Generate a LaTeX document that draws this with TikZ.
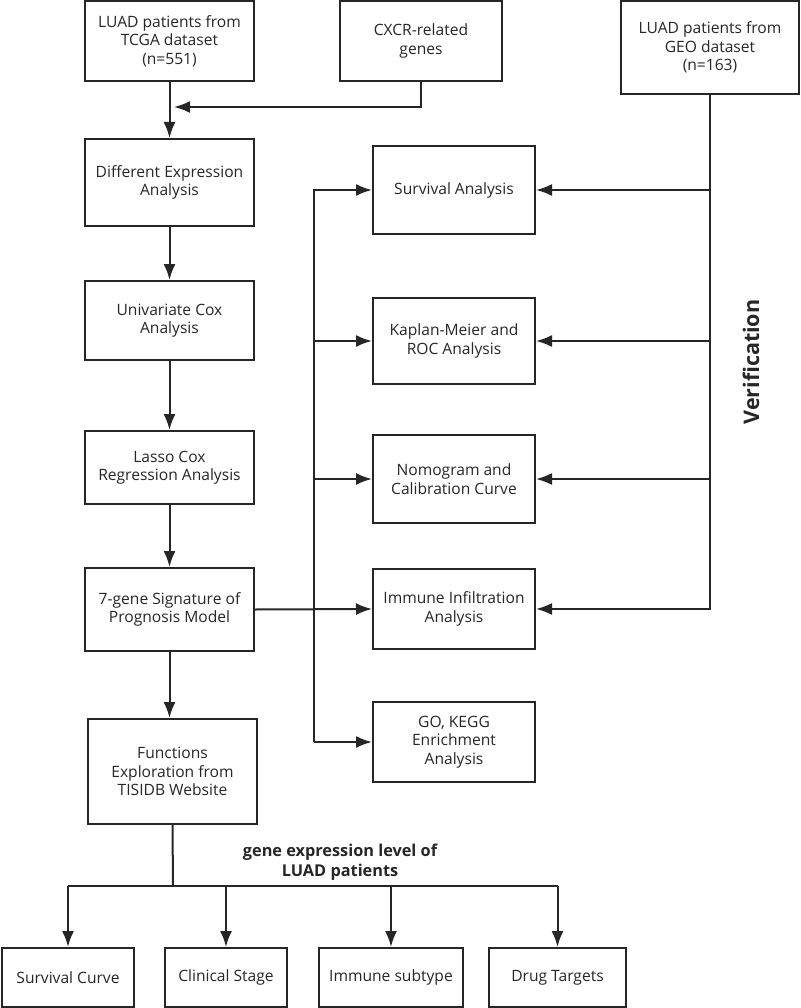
\documentclass[tikz,border=0pt]{standalone}
\usepackage{fontspec}
\setmainfont{Open Sans}
\usepackage{tikz}
\usetikzlibrary{arrows.meta}
\definecolor{ink}{RGB}{38,38,38}

\begin{document}
\begin{tikzpicture}[x=1pt, y=-1pt, line width=2pt, draw=ink, text=ink,
  >={Latex[length=16pt,width=12pt]},
  box/.style={draw, rectangle, align=center, inner sep=2pt,
    font=\fontsize{15.6}{18.5}\selectfont},
  lbl/.style={align=center, font=\fontsize{16.3}{19.5}\selectfont\bfseries}]
\useasboundingbox (0,0) rectangle (800,1008);
\node[box, minimum width=169pt, minimum height=80pt] (tcga) at (169.5,41) {LUAD patients from\\TCGA dataset\\(n=551)};
\node[box, minimum width=162pt, minimum height=80pt] (cxcr) at (421,41) {CXCR-related\\genes};
\node[box, minimum width=178pt, minimum height=93pt] (geo) at (710,47.5) {LUAD patients from\\GEO dataset\\(n=163)};
\node[box, minimum width=169pt, minimum height=87pt] (diff) at (169.5,182.5) {Different Expression\\Analysis};
\node[box, minimum width=169pt, minimum height=79pt] (univ) at (169.5,320.5) {Univariate Cox\\Analysis};
\node[box, minimum width=169pt, minimum height=73pt] (lasso) at (169.5,467.5) {Lasso Cox\\Regression Analysis};
\node[box, minimum width=169pt, minimum height=83pt] (sig) at (169.5,609.5) {7-gene Signature of\\Prognosis Model};
\node[box, minimum width=169pt, minimum height=105pt] (func) at (172.5,771.5) {Functions\\Exploration from\\TISIDB Website};
\node[box, minimum width=162pt, minimum height=88pt] (surv) at (454,190) {Survival Analysis};
\node[box, minimum width=162pt, minimum height=86pt] (km) at (454,341) {Kaplan-Meier and\\ROC Analysis};
\node[box, minimum width=162pt, minimum height=88pt] (nomo) at (454,479) {Nomogram and\\Calibration Curve};
\node[box, minimum width=162pt, minimum height=80pt] (immu) at (454,609) {Immune Infiltration\\Analysis};
\node[box, minimum width=162pt, minimum height=80pt] (go) at (454,742) {GO, KEGG\\Enrichment\\Analysis};
\node[box, minimum width=132pt, minimum height=59pt] (sc) at (68,977.5) {Survival Curve};
\node[box, minimum width=122pt, minimum height=59pt] (cs) at (226,977.5) {Clinical Stage};
\node[box, minimum width=144pt, minimum height=59pt] (is) at (391,977.5) {Immune subtype};
\node[box, minimum width=137pt, minimum height=59pt] (dt) at (557.5,977.5) {Drug Targets};
\node[lbl] (gexp) at (340,862) {gene expression level of\\LUAD patients};
\node[lbl, rotate=90, font=\fontsize{21.5}{24}\selectfont\bfseries] (verif) at (751,362) {Verification};
\coordinate (merge) at (174,107);
\coordinate (trunk) at (314,0);
\coordinate (split) at (173,886);
% main column
\draw[->] (tcga) -- (diff);
\draw[->] (cxcr.south) -- (cxcr.south |- merge) -- (merge);
\draw[->] (diff) -- (univ);
\draw[->] (univ) -- (lasso);
\draw[->] (lasso) -- (sig);
\draw[->] (sig.south) -- (sig.south |- func.north);
% analyses
\draw[->] (sig.east) -- (immu.west);
\draw[->] (trunk |- go.west) -- (trunk |- surv.west) -- (surv.west);
\draw[->] (trunk |- go.west) -- (go.west);
\foreach \n in {km,nomo}
  \draw[->] (trunk |- \n.west) -- (\n.west);
% verification
\draw[->] (geo.south) -- (geo.south |- immu.east) -- (immu.east);
\foreach \n in {surv,km,nomo}
  \draw[->] (geo.south |- \n.east) -- (\n.east);
% TISIDB
\draw (func.south) -- (split);
\draw (split -| sc.north) -- (split -| dt.north);
\foreach \n in {sc,cs,is,dt}
  \draw[->] (split -| \n.north) -- (\n.north);
\end{tikzpicture}
\end{document}
